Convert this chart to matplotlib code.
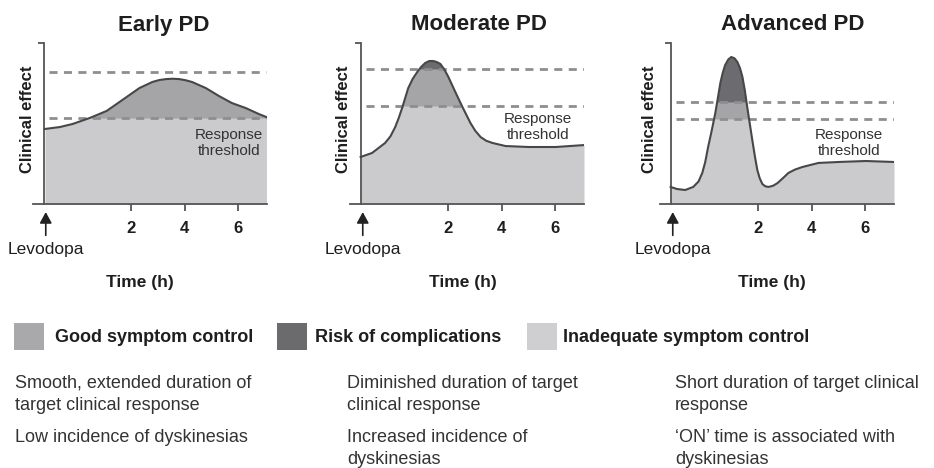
import numpy as np
import matplotlib
matplotlib.use("Agg")
import matplotlib.pyplot as plt
from matplotlib.patches import Rectangle

plt.rcParams['font.family'] = ['Liberation Sans', 'DejaVu Sans']

# ---- data (x in hours, y in arbitrary 0-10 effect units) ----
titles = ["Early PD", "Moderate PD", "Advanced PD"]

early_t = [-1.25, -0.69, -0.21, 0.43, 1.07, 1.66, 2.30, 2.79, 3.05, 3.31, 3.55, 3.79,
           4.03, 4.28, 4.80, 5.29, 5.78, 6.30, 6.79, 7.08]
early_y = [4.66, 4.78, 4.97, 5.34, 5.78, 6.46, 7.20, 7.58, 7.70, 7.76, 7.78, 7.76,
           7.69, 7.58, 7.20, 6.71, 6.27, 5.96, 5.59, 5.40]

moderate_t = [-1.30, -0.87, -0.38, -0.18, 0.00, 0.13, 0.26, 0.49, 0.66, 0.83, 0.98,
              1.13, 1.28, 1.43, 1.56, 1.70, 1.85, 2.00, 2.26, 2.53, 2.83, 3.01,
              3.21, 3.42, 3.66, 4.15, 5.02, 6.04, 7.10]
moderate_y = [2.92, 3.17, 3.79, 4.20, 4.78, 5.33, 5.96, 7.20, 7.78, 8.20, 8.52,
              8.76, 8.88, 8.88, 8.82, 8.70, 8.35, 7.89, 6.96, 6.02, 5.03, 4.55,
              4.16, 3.93, 3.79, 3.60, 3.54, 3.54, 3.66]

advanced_t = [-1.30, -1.06, -0.75, -0.45, -0.25, -0.11, 0.00, 0.11, 0.25, 0.38, 0.48,
              0.57, 0.66, 0.75, 0.87, 0.98, 1.10, 1.21, 1.31, 1.40, 1.49, 1.58,
              1.68, 1.77, 1.87, 1.96, 2.05, 2.15, 2.26, 2.38, 2.55, 2.72, 2.92,
              3.13, 3.38, 3.66, 4.26, 5.02, 6.04, 7.10]
advanced_y = [1.06, 0.93, 0.87, 1.06, 1.40, 1.93, 2.60, 3.54, 4.60, 5.65, 6.62,
              7.52, 8.15, 8.63, 8.98, 9.13, 9.05, 8.82, 8.43, 7.89, 7.05, 6.02,
              4.95, 3.98, 2.95, 2.11, 1.60, 1.24, 1.10, 1.06, 1.13, 1.30, 1.60,
              1.93, 2.14, 2.30, 2.55, 2.61, 2.67, 2.61]

curves_t = [early_t, moderate_t, advanced_t]
curves_y = [early_y, moderate_y, advanced_y]
lower_thr = [5.34, 6.09, 5.28]
upper_thr = [8.20, 8.39, 6.34]

xticks = [2, 4, 6]

legend_labels = ["Good symptom control", "Risk of complications",
                 "Inadequate symptom control"]

notes = [
    ["Smooth, extended duration of", "target clinical response",
     "Low incidence of dyskinesias"],
    ["Diminished duration of target", "clinical response",
     "Increased incidence of", "dyskinesias"],
    ["Short duration of target clinical", "response",
     "\u2018ON\u2019 time is associated with", "dyskinesias"],
]

# ---- styling ----
W, H = 934, 468
light = '#cbcbce'
mid = '#a5a5a8'
dark = '#6c6c70'
axis_col = '#555555'
txt = '#1e1e1e'


def fx(px):
    return px / W


def fy(py):
    return 1 - py / H


fig = plt.figure(figsize=(W / 100, H / 100), dpi=100)

ax_left = [33, 350, 660]          # pixel left edge of each axes
ax_w, ax_top, ax_bot = 234, 43, 204
x_lo, x_hi, spine_x = -1.70, 7.10, -1.30
title_x = [164, 479, 793]
ylab_x = [28, 343, 650]
time_x = [140, 463, 772]
resp_x = [229, 538, 849]
resp_y = [133, 117, 133]

for i in range(3):
    ax = fig.add_axes([fx(ax_left[i]), fy(ax_bot), ax_w / W, (ax_bot - ax_top) / H])
    t = np.array(curves_t[i])
    y = np.array(curves_y[i])
    lo, hi = lower_thr[i], upper_thr[i]

    ax.fill_between(t, 0, y, color=light, lw=0, zorder=1)
    ax.fill_between(t, lo, y, where=y > lo, interpolate=True, color=mid, lw=0, zorder=2)
    ax.fill_between(t, hi, y, where=y > hi, interpolate=True, color=dark, lw=0, zorder=3)
    ax.plot(t, y, color='#474747', lw=1.5, zorder=5, solid_joinstyle='round')

    for thr in (lo, hi):
        ax.plot([spine_x + 0.2, t[-1]], [thr, thr], color='#8e8e8e', lw=2,
                ls=(0, (2.9, 2.3)), zorder=4)

    ax.set_xlim(x_lo, x_hi)
    ax.set_ylim(0, 10)
    ax.spines['top'].set_visible(False)
    ax.spines['right'].set_visible(False)
    ax.spines['left'].set_position(('data', spine_x))
    for s in ('left', 'bottom'):
        ax.spines[s].set_color(axis_col)
        ax.spines[s].set_linewidth(1.3)
    ax.patch.set_alpha(0)

    ax.set_xticks(xticks)
    ax.set_xticklabels([str(v) for v in xticks], fontsize=12, fontweight='bold', color=txt)
    ax.tick_params(axis='x', length=5, width=1.3, color=axis_col, pad=7)
    ax.set_yticks([10])
    ax.set_yticklabels([''])
    ax.tick_params(axis='y', length=4, width=1.3, color=axis_col)

    tr = ax.get_xaxis_transform()
    ax.annotate('', xy=(spine_x + 0.08, -0.05), xytext=(spine_x + 0.08, -0.195),
                xycoords=tr, textcoords=tr,
                arrowprops=dict(arrowstyle='-|>,head_length=0.55,head_width=0.3',
                                color='#222222', lw=1.2, mutation_scale=12,
                                shrinkA=0, shrinkB=0))
    ax.text(spine_x + 0.1, -0.28, "Levodopa", transform=tr, ha='center', va='center',
            fontsize=12.5, color=txt)

    fig.text(fx(title_x[i]), fy(25), titles[i], ha='center', va='center',
             fontsize=16, fontweight='bold', color=txt)
    fig.text(fx(ylab_x[i]), fy(119), "Clinical effect", ha='center', va='center',
             rotation=90, fontsize=12, fontweight='bold', color=txt)
    fig.text(fx(time_x[i]), fy(282), "Time (h)", ha='center', va='center',
             fontsize=12.5, fontweight='bold', color=txt)
    fig.text(fx(resp_x[i]), fy(resp_y[i] + 10), "Response\nthreshold", ha='center',
             va='center', fontsize=11, color='#333333', linespacing=1.2)

# ---- legend row ----
box_x = [14, 277, 527]
lab_x = [55, 315, 563]
box_cols = ['#a9a9ab', '#6b6b6e', '#cfcfd1']
for bx, lx, c, lab in zip(box_x, lab_x, box_cols, legend_labels):
    fig.patches.append(Rectangle((fx(bx), fy(350)), 30 / W, 27 / H, transform=fig.transFigure,
                                 facecolor=c, edgecolor='none'))
    fig.text(fx(lx), fy(337), lab, ha='left', va='center', fontsize=13,
             fontweight='bold', color=txt)

# ---- notes under each panel ----
note_x = [15, 347, 675]
line_y = [383, 406, 437, 460]
for nx, lines in zip(note_x, notes):
    for ly, s in zip(line_y, lines):
        fig.text(fx(nx), fy(ly), s, ha='left', va='center', fontsize=13, color='#333333')

fig.savefig("out.png", dpi=100)
